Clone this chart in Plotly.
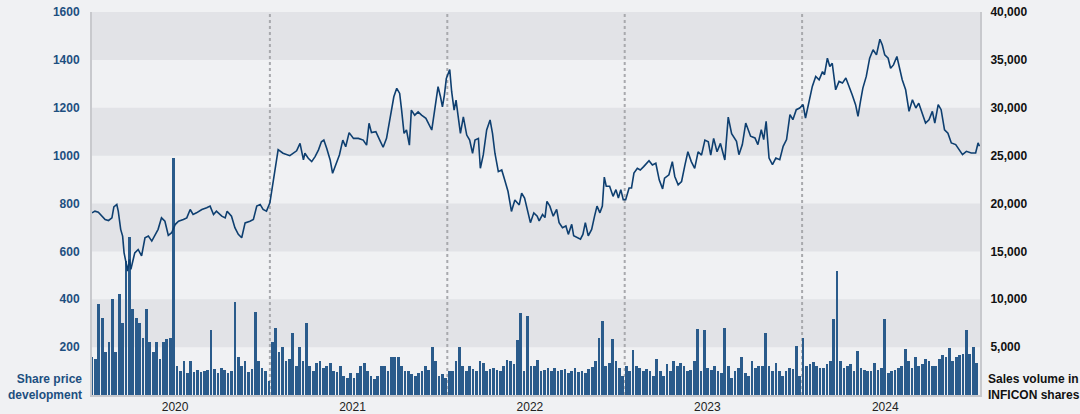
import pandas as pd
import plotly.graph_objects as go

# ---------------- data ----------------
# Share price (CHF), day offsets since 2020-01-01
price_days = [
    0, 6, 13, 20, 27, 34, 41, 45, 51, 54, 59, 63, 66, 70, 73, 77, 80, 84, 88, 95,
    102, 109, 116, 123, 130, 136, 143, 150, 157, 164, 171, 178, 188, 195, 202, 208, 215, 226, 236, 243,
    250, 256, 267, 274, 278, 287, 294, 301, 308, 315, 325, 332, 339, 346, 352, 359, 366, 372, 378, 383,
    393, 407, 421,
    428, 435, 438, 445, 452, 459, 466, 472, 477, 483, 490, 495, 502, 509, 516, 522, 529, 538, 548, 558,
    565, 570, 575, 584, 592, 599, 606, 612, 616, 621, 627, 633, 637, 642, 647, 653, 657, 664, 671, 678,
    687, 692, 699, 705, 712, 717, 721, 725, 729, 736, 740, 745, 749, 753, 758, 764, 771, 777, 783, 788,
    795, 799, 805, 812, 819, 824, 829, 836, 843, 849, 856, 863, 870, 879, 884,
    890, 897, 902, 909, 916, 920, 927, 932, 936, 942, 949, 956, 961, 968, 975, 980, 987, 991, 998, 1005,
    1010, 1015, 1021, 1028, 1034, 1039, 1045, 1050, 1054, 1058, 1065, 1072, 1078, 1083, 1088, 1093, 1098, 1105, 1110, 1115,
    1122, 1128, 1135, 1141, 1146, 1153, 1160, 1167, 1174, 1178, 1187, 1194, 1199, 1206, 1213, 1220, 1226, 1233, 1240, 1247,
    1254, 1261, 1268, 1273, 1279, 1286, 1293, 1302, 1309, 1316,
    1319, 1326, 1331, 1338, 1345, 1350, 1355, 1364, 1370, 1377, 1382, 1387, 1393, 1400, 1407, 1415, 1422, 1429, 1436, 1442,
    1449, 1456, 1463, 1468, 1475, 1482, 1489, 1496, 1503, 1507, 1513, 1518, 1523, 1530, 1537, 1544, 1551, 1558, 1564, 1571,
    1576, 1581, 1586, 1593, 1600, 1607, 1614, 1621, 1626, 1631, 1638, 1643, 1649, 1656, 1662, 1667, 1674, 1681, 1688, 1695,
    1701, 1708, 1715, 1722, 1729, 1734, 1741, 1747, 1754, 1761, 1768, 1777, 1784, 1791, 1799, 1809, 1818, 1823, 1826,
]
price_chf = [
    761, 768, 764, 747, 733, 729, 740, 786, 796, 768, 692, 664, 594, 553, 518, 567, 525, 560, 594, 608,
    581, 657, 664, 643, 671, 692, 740, 726, 667, 678, 712, 726, 733, 740, 775, 754, 761, 775, 782, 789,
    754, 768, 747, 740, 768, 747, 699, 671, 657, 719, 726, 733, 789, 796, 775, 768, 803, 886, 956, 1025,
    1010, 1000, 1020,
    1051, 982, 1010, 989, 975, 996, 1024, 1058, 1065, 1030, 982, 926, 968, 1003, 1065, 1037, 1096, 1072, 1072, 1065,
    1044, 1135, 1096, 1100, 1065, 1035, 1072, 1149, 1197, 1246, 1281, 1260, 1190, 1093, 1107, 1044, 1190, 1169, 1183, 1169,
    1156, 1135, 1107, 1190, 1288, 1246, 1204, 1253, 1322, 1360, 1267, 1190, 1232, 1169, 1093, 1162, 1086, 1065, 1010, 1065,
    1072, 947, 1003, 1107, 1149, 1093, 1010, 933, 940, 899, 850, 767, 815, 794, 843,
    823, 761, 720, 761, 747, 727, 754, 741, 809, 789, 747, 775, 720, 699, 706, 671, 713, 665, 658, 651,
    671, 720, 665, 692, 747, 789, 761, 789, 910, 872, 872, 830, 858, 823, 858, 816, 816, 865, 865, 927,
    947, 940, 954, 968, 979, 961, 968, 899, 861, 906, 920, 975, 913, 878, 892, 961, 1016, 975, 947, 1016,
    1002, 1065, 1058, 1002, 1072, 1016, 1051, 982, 1161, 1092,
    1081, 1060, 1004, 1046, 1136, 1108, 1081, 1074, 1046, 1108, 1067, 1143, 990, 962, 990, 983, 1039, 1067, 1171, 1150,
    1192, 1199, 1213, 1157, 1226, 1289, 1331, 1317, 1351, 1338, 1407, 1372, 1386, 1275, 1310, 1303, 1324, 1289, 1254, 1213,
    1164, 1226, 1282, 1331, 1407, 1442, 1421, 1486, 1462, 1421, 1407, 1365, 1379, 1414, 1358, 1317, 1275, 1185, 1233, 1199,
    1219, 1178, 1136, 1150, 1185, 1136, 1213, 1192, 1108, 1094, 1053, 1046, 1025, 1004, 1018, 1011, 1011, 1053, 1039,
]
assert len(price_days) == len(price_chf)

# Weekly sales volume (shares), one value per week starting 2020-01-01
volume_weekly = [
    4000, 3800, 9500, 8000, 4500, 5500, 10000, 4500, 10500, 7500,
    14000, 16500, 9000, 8000, 7500, 6000, 9000, 5500, 4500, 5500,
    3800, 5500, 5800, 6000, 24800, 3000, 2500, 3500, 2300, 3500,
    2400, 2600, 2400, 2500, 2600, 6800, 2700, 2300, 2800, 2600,
    2300, 2500, 9700, 4000, 3000, 3500, 2400, 2700, 8700, 3500,
    2800, 2500, 1500, 5500, 7000, 4500, 5000, 3500, 3800, 6500,
    3000, 5000, 3500, 7500, 3000, 2500, 3300, 3500, 2800, 3000,
    3300, 2500, 2400, 3000, 2000, 1800, 2300, 1800, 2300, 3000,
    3300, 2500, 2000, 1700, 2000, 3000, 3000, 2500, 4000, 4000,
    4000, 3000, 2500, 2500, 2200, 2000, 2300, 2500, 3000, 2600,
    5000, 3500, 2000, 2200, 1800, 2500, 2500, 3500, 5000, 3000,
    2500, 3000, 2700, 2500, 3500, 3300, 2500, 2700, 2800, 2600,
    2500, 3000, 3700, 3500, 3200, 5700, 8600, 2500, 8300, 3000,
    3000, 3700, 2500, 2600, 2800, 2500, 2800, 2500, 2600, 2700,
    2300, 2500, 2800, 2400, 2500, 2300, 2700, 2900, 3500, 6000,
    7700, 3000, 3300, 5800, 3500, 2800, 2000, 3000, 2500, 4700,
    3000, 2800, 2500, 2700, 2500, 2000, 3800, 2500, 2000, 3200,
    2500, 3500, 3000, 3300, 3000, 2500, 2600, 3500, 6900, 2500,
    6800, 2800, 2600, 3000, 2500, 2300, 7000, 3000, 1800, 2500,
    2800, 4000, 2300, 2000, 3500, 2800, 3000, 3000, 6500, 3000,
    2500, 3300, 2500, 2000, 2500, 2800, 2700, 5100, 2000, 6000,
    3000, 3200, 3400, 3000, 2800, 2800, 3200, 3600, 7900, 12900,
    3600, 2800, 3000, 3200, 2500, 4600, 2800, 2600, 2500, 2500,
    3300, 2600, 2800, 7900, 2300, 2500, 2600, 2800, 3000, 4800,
    3500, 2800, 4000, 3000, 3200, 3800, 3500, 3000, 3000, 3800,
    4200, 4000, 4900, 3600, 4000, 4200, 4300, 6800, 4300, 5000,
    3300,
]

year_labels = ["2020", "2021", "2022", "2023", "2024"]
year_label_dates = ["2020-06-20", "2021-06-20", "2022-06-20", "2023-06-20", "2024-06-20"]
year_start_lines = ["2021-01-01", "2022-01-01", "2023-01-01", "2024-01-01"]
price_ticks = [200, 400, 600, 800, 1000, 1200, 1400, 1600]
volume_ticks = [5000, 10000, 15000, 20000, 25000, 30000, 35000, 40000]

# ---------------- figure ----------------
start = pd.Timestamp("2020-01-01")
price_dates = [start + pd.Timedelta(days=d) for d in price_days]
volume_dates = pd.date_range(start=start, periods=len(volume_weekly), freq="7D")

BG = "#f0f1f3"
BAND = "#e2e3e7"
LINE = "#0e3f70"
BAR = "#2a5b8b"
BLUE_TXT = "#1d4f80"
FONT = "Liberation Sans, Arial, sans-serif"

fig = go.Figure()
fig.add_trace(go.Bar(
    x=volume_dates, y=volume_weekly, yaxis="y",
    marker=dict(color=BAR, line=dict(width=0)),
    width=7 * 86400000 * 0.8,
    hoverinfo="skip", showlegend=False,
))
fig.add_trace(go.Scatter(
    x=price_dates, y=price_chf, yaxis="y2", mode="lines",
    line=dict(color=LINE, width=1.6),
    showlegend=False,
))

shapes = []
for lo in (200, 600, 1000, 1400):
    shapes.append(dict(type="rect", xref="paper", yref="y2", x0=0, x1=1, y0=lo, y1=lo + 200,
                       fillcolor=BAND, line=dict(width=0), layer="below"))
for d in year_start_lines:
    shapes.append(dict(type="line", xref="x", yref="paper", x0=d, x1=d, y0=0, y1=1,
                       line=dict(color="#a8a9ad", width=2, dash="dot"), layer="below"))

fig.update_layout(
    width=1080, height=414,
    margin=dict(l=92, r=100, t=12, b=19),
    paper_bgcolor=BG, plot_bgcolor=BG,
    font=dict(family=FONT, size=12, color="#222222"),
    bargap=0,
    shapes=shapes,
    xaxis=dict(
        type="date", range=["2020-01-01", "2025-01-01"],
        tickvals=year_label_dates, ticktext=year_labels,
        showgrid=False, zeroline=False, showline=True, linecolor="#c8c9cd", linewidth=1.5,
        ticks="", tickfont=dict(size=12, color="#222222"), automargin=False,
    ),
    yaxis=dict(
        side="right", range=[0, 40000], tickvals=volume_ticks, tickformat=",",
        showgrid=False, zeroline=False, showline=True, linecolor="#c8c9cd", linewidth=2,
        ticks="", ticklabelstandoff=6,
        tickfont=dict(size=12, color="#111111", weight="bold"), automargin=False,
    ),
    yaxis2=dict(
        side="left", overlaying="y", range=[0, 1600], tickvals=price_ticks,
        showgrid=False, zeroline=False, showline=True, linecolor="#c8c9cd", linewidth=2,
        ticks="", ticklabelstandoff=8,
        tickfont=dict(size=12, color=BLUE_TXT, weight="bold"), automargin=False,
    ),
    annotations=[
        dict(text="Share price<br>development", xref="paper", yref="paper", x=0, y=0.02,
             xanchor="right", yanchor="middle", xshift=-8, align="right", showarrow=False,
             font=dict(size=12, color=BLUE_TXT, weight="bold", family=FONT)),
        dict(text="Sales volume in<br>INFICON shares", xref="paper", yref="paper", x=1, y=0.02,
             xanchor="left", yanchor="middle", xshift=6, align="left", showarrow=False,
             font=dict(size=12, color="#111111", weight="bold", family=FONT)),
    ],
)

fig.write_html(
    "out.html",
    config={"displayModeBar": False},
    post_script="document.body.style.margin='0';document.body.style.background='" + BG + "';",
)
